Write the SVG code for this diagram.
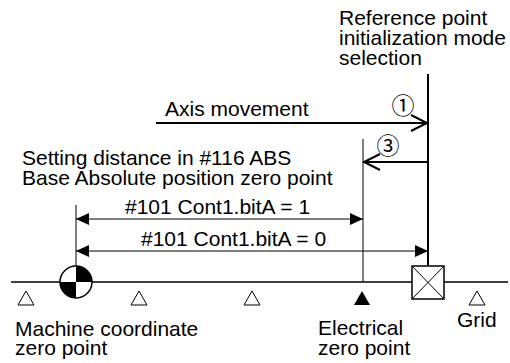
<svg xmlns="http://www.w3.org/2000/svg" width="510" height="363" viewBox="0 0 510 363">
<style>
text{font-family:"Liberation Sans",Arial,"Noto Sans CJK JP",sans-serif;font-size:21px;fill:#000}
.circ{font-family:"Noto Sans CJK JP","DejaVu Sans",sans-serif;font-size:23px;text-anchor:middle}
.thin{stroke:#000;stroke-width:1;fill:none}
.thick{stroke:#000;stroke-width:2;fill:none}
.axis{stroke:#000;stroke-width:1.5;fill:none}
.tri{fill:#fff;stroke:#000;stroke-width:1}
</style>
<defs>
<marker id="dim" viewBox="0 0 13 12" refX="13" refY="6" markerWidth="13" markerHeight="12" markerUnits="userSpaceOnUse" orient="auto-start-reverse">
<path d="M0,0 L13,6 L0,12 Z" fill="#000"/>
</marker>
<marker id="open" viewBox="-2 -2 20 20" refX="16" refY="8" markerWidth="20" markerHeight="20" markerUnits="userSpaceOnUse" orient="auto" overflow="visible">
<path d="M0,0 L16,8 L0,16" fill="none" stroke="#000" stroke-width="2"/>
</marker>
</defs>
<rect width="510" height="363" fill="#fff"/>
<g id="connectors">
<line class="axis" x1="11" y1="282" x2="508" y2="282"/>
<line class="thick" x1="428" y1="74" x2="428" y2="266"/>
<line class="thin" x1="363" y1="139" x2="363" y2="282"/>
<line class="thin" x1="76" y1="205" x2="76" y2="266"/>
<line class="thick" x1="156" y1="123" x2="427" y2="123" marker-end="url(#open)"/>
<line class="thick" x1="428" y1="162" x2="364" y2="162" marker-end="url(#open)"/>
<line class="thin" x1="76" y1="219" x2="363" y2="219" marker-start="url(#dim)" marker-end="url(#dim)"/>
<line class="thin" x1="76" y1="251" x2="428" y2="251" marker-start="url(#dim)" marker-end="url(#dim)"/>
</g>
<g id="machine-zero">
<circle cx="76" cy="282" r="16" fill="#fff"/>
<path d="M76,282 L76,266 A16,16 0 0 1 92,282 Z M76,282 L76,298 A16,16 0 0 1 60,282 Z" fill="#000"/>
<circle cx="76" cy="282" r="16" fill="none" stroke="#000" stroke-width="1.5"/>
</g>
<g id="reference-point">
<rect x="412" y="266" width="32" height="33" fill="#fff" stroke="#000" stroke-width="1.5"/>
<path d="M412,266 L444,299 M444,266 L412,299" stroke="#000" stroke-width="1"/>
</g>
<g id="grid">
<polygon class="tri" points="26,291 18,305 34,305"/>
<polygon class="tri" points="139,291 131,305 147,305"/>
<polygon class="tri" points="252,291 244,305 260,305"/>
<polygon class="tri" points="477,291 469,305 485,305"/>
<text x="457" y="327">Grid</text>
</g>
<g id="electrical-zero">
<polygon points="362,291 354,305 370,305" fill="#000"/>
<text x="318" y="335">Electrical</text>
<text x="318" y="355">zero point</text>
</g>
<g id="labels">
<text x="339" y="25">Reference point</text>
<text x="339" y="45">initialization mode</text>
<text x="339" y="65">selection</text>
<text x="165" y="116">Axis movement</text>
<text class="circ" x="403" y="114">①</text>
<text class="circ" x="388" y="154">③</text>
<text x="22" y="165">Setting distance in #116 ABS</text>
<text x="22" y="185">Base Absolute position zero point</text>
<text x="125" y="214">#101 Cont1.bitA = 1</text>
<text x="141" y="246">#101 Cont1.bitA = 0</text>
<text x="15" y="336">Machine coordinate</text>
<text x="15" y="355">zero point</text>
</g>
</svg>
